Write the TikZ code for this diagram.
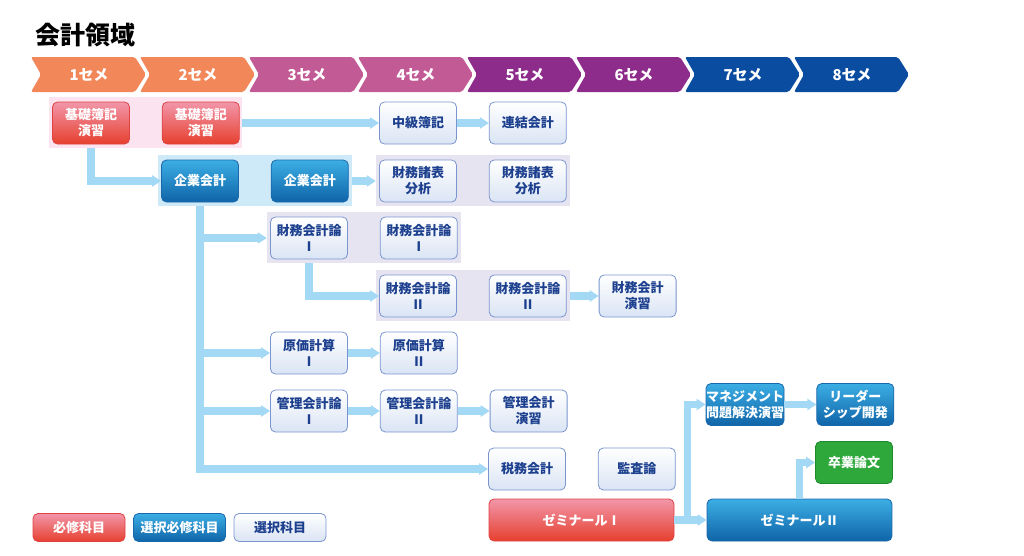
\documentclass[tikz,border=0pt]{standalone}
\usepackage{fontspec}
\setmainfont{Noto Sans CJK JP}
\usetikzlibrary{positioning, arrows.meta}

\definecolor{chOrange}{HTML}{F2875A}
\definecolor{chOrangeLine}{HTML}{E85A38}
\definecolor{chPink}{HTML}{C25B95}
\definecolor{chPurple}{HTML}{8E2C8C}
\definecolor{chBlue}{HTML}{0A4DA0}
\definecolor{reqTop}{HTML}{F296AA}
\definecolor{reqBot}{HTML}{E6402E}
\definecolor{reqLine}{HTML}{E04242}
\definecolor{selTop}{HTML}{3CAEE4}
\definecolor{selBot}{HTML}{0F64A8}
\definecolor{selLine}{HTML}{1A68AC}
\definecolor{optBot}{HTML}{DAE4F4}
\definecolor{optLine}{HTML}{7A95CE}
\definecolor{optText}{HTML}{1C3F8E}
\definecolor{thesisFill}{HTML}{2EA83A}
\definecolor{thesisLine}{HTML}{1E8A2C}
\definecolor{connCol}{HTML}{A3D9F5}
\definecolor{bgPink}{HTML}{FBE4EF}
\definecolor{bgBlue}{HTML}{CEEAF8}
\definecolor{bgLav}{HTML}{E7E4F1}

\begin{document}
\begin{tikzpicture}[
      x=1pt, y=-1pt,
      node distance=32pt,
      box/.style={rectangle, rounded corners=5pt, minimum width=77pt, minimum height=42pt, inner sep=0pt, align=center, line width=0.8pt, font=\fontsize{13}{16}\selectfont\bfseries},
      opt/.style={box, draw=optLine, top color=white, bottom color=optBot, text=optText},
      req/.style={box, draw=reqLine, top color=reqTop, bottom color=reqBot, text=white},
      sel/.style={box, draw=selLine, top color=selTop, bottom color=selBot, text=white},
      thesis/.style={box, draw=thesisLine, fill=thesisFill, text=white},
      wide/.style={minimum width=185pt},
      legend/.style={minimum width=92pt, minimum height=28pt},
      bgbox/.style={rectangle, inner sep=0pt, minimum height=51pt},
      semtext/.style={text=white, font=\fontsize{15}{15}\selectfont\bfseries},
      arrow/.style={-{Triangle[width=11pt,length=9pt]}, line width=7.5pt, draw=connCol}
    ]
      \useasboundingbox (0,0) rectangle (1024,555);

      % Title
      \node[anchor=west, font=\fontsize{25}{25}\selectfont\bfseries] (title) at (32,35) {会計領域};

      % Semesters
      \foreach \i/\col in {1/chOrange, 2/chOrange, 3/chPink, 4/chPink, 5/chPurple, 6/chPurple, 7/chBlue, 8/chBlue} {
        \fill[\col, rounded corners=2pt] ({31+109*(\i-1)},57) -- ++(104,0) -- ++(11,17.5) -- ++(-11,17.5) -- ++(-104,0) -- ++(10,-17.5) -- cycle;
        \node[semtext] (sem\i) at ({89+109*(\i-1)},74.5) {\i セメ};
      }

      % Backgrounds
      \node[bgbox, fill=bgPink, minimum width=193pt] (bgKiso) at (145.5,122.5) {};
      \node[bgbox, fill=bgBlue, minimum width=194pt] (bgKigyo) at (255,180.5) {};
      \node[bgbox, fill=bgLav, minimum width=194pt] (bgZaihyo) at (473,180.5) {};
      \node[bgbox, fill=bgLav, minimum width=194pt] (bgZaimuA) at (364,237.5) {};
      \node[bgbox, fill=bgLav, minimum width=194pt] (bgZaimuB) at (473,295.5) {};

      % Nodes
      \node[req] (kiso1) at (91,123) {基礎簿記\\演習};
      \node[req, right=of kiso1] (kiso2) {基礎簿記\\演習};
      \node[opt] (chukyu) at (418,123) {中級簿記};
      \node[opt, right=of chukyu] (renketsu) {連結会計};

      \node[sel] (kigyo1) at (200,181) {企業会計};
      \node[sel, right=of kigyo1] (kigyo2) {企業会計};
      \node[opt] (zaihyo1) at (418,181) {財務諸表\\分析};
      \node[opt, right=of zaihyo1] (zaihyo2) {財務諸表\\分析};

      \node[opt] (zaimuA1) at (309,238) {財務会計論\\Ⅰ};
      \node[opt, right=of zaimuA1] (zaimuA2) {財務会計論\\Ⅰ};

      \node[opt] (zaimuB1) at (418,296) {財務会計論\\Ⅱ};
      \node[opt, right=of zaimuB1] (zaimuB2) {財務会計論\\Ⅱ};
      \node[opt, right=of zaimuB2] (zaimuEn) {財務会計\\演習};

      \node[opt] (genka1) at (309,353) {原価計算\\Ⅰ};
      \node[opt, right=of genka1] (genka2) {原価計算\\Ⅱ};

      \node[opt] (kanri1) at (309,411) {管理会計論\\Ⅰ};
      \node[opt, right=of kanri1] (kanri2) {管理会計論\\Ⅱ};
      \node[opt, right=of kanri2] (kanriEn) {管理会計\\演習};

      \node[opt] (zeimu) at (527,469) {税務会計};
      \node[opt, right=of zeimu] (kansa) {監査論};

      \node[sel] (mgmt) at (745,404.5) {マネジメント\\問題解決演習};
      \node[sel, right=of mgmt] (leader) {リーダー\\シップ開発};
      \node[thesis] (sotsuron) at (854,462.5) {卒業論文};

      \node[req, wide] (zemi1) at (581.5,520) {ゼミナールⅠ};
      \node[sel, wide] (zemi2) at (799.5,520) {ゼミナールⅡ};

      % Legend
      \node[req, legend] (legReq) at (79,527.5) {必修科目};
      \node[sel, legend] (legSel) at (179.5,527.5) {選択必修科目};
      \node[opt, legend] (legOpt) at (280,527.5) {選択科目};

      % Arrows
      \draw[arrow] (kiso1 |- bgKiso.south) |- (kigyo1);
      \draw[arrow] (bgKiso.east |- chukyu) -- (chukyu);
      \draw[arrow] (chukyu) -- (renketsu);
      \draw[arrow] (bgKigyo.east |- zaihyo1) -- (bgZaihyo.west |- zaihyo1);

      \draw[arrow] (kigyo1 |- bgKigyo.south) |- (zeimu);
      \draw[arrow] (kigyo1 |- zaimuA1) -- (bgZaimuA.west |- zaimuA1);
      \draw[arrow] (kigyo1 |- genka1) -- (genka1);
      \draw[arrow] (kigyo1 |- kanri1) -- (kanri1);

      \draw[arrow] (zaimuA1 |- bgZaimuA.south) |- (zaimuB1);
      \draw[arrow] (bgZaimuB.east |- zaimuEn) -- (zaimuEn);
      \draw[arrow] (genka1) -- (genka2);
      \draw[arrow] (kanri1) -- (kanri2);
      \draw[arrow] (kanri2) -- (kanriEn);

      \coordinate (zsplit) at ([xshift=13pt]zemi1.east);
      \draw[arrow] (zemi1) -- (zemi2);
      \draw[arrow] (zsplit) |- (mgmt);
      \draw[arrow] (mgmt) -- (leader);
      \draw[arrow] (zemi2.north) |- (sotsuron);

    \end{tikzpicture}
\end{document}
